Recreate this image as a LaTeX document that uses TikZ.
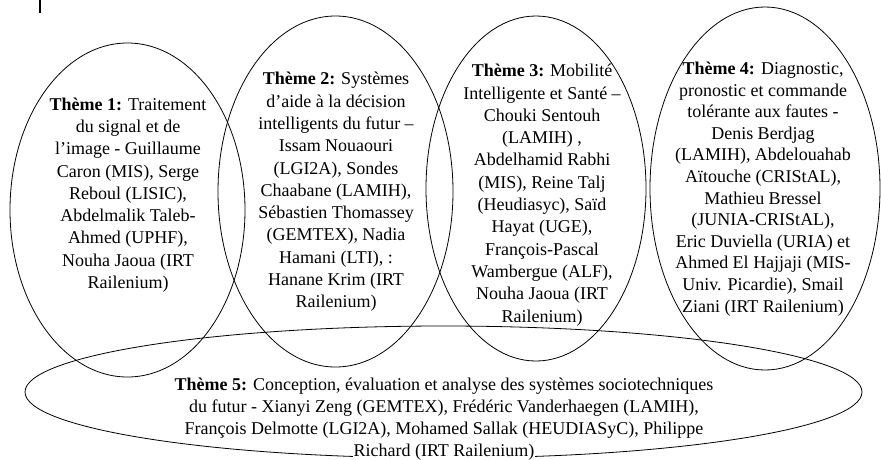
\documentclass[tikz,border=0pt]{standalone}
\usepackage{fontspec}
\setmainfont{Liberation Serif}
\usetikzlibrary{shapes.geometric}
\tikzset{
  theme/.style={draw=black, line width=0.8pt, ellipse, inner sep=0pt, fill=none},
  txt/.style={align=center, inner sep=0pt, font=\fontsize{18}{22.3}\selectfont},
}
\begin{document}
\begin{tikzpicture}[x=1pt,y=-1pt]
\useasboundingbox (0,0) rectangle (881,459);
% ellipses
\node[theme, minimum width=235pt, minimum height=334pt] (e1) at (127.5,210) {};
\node[theme, minimum width=235pt, minimum height=351pt] (e2) at (335.5,191.5) {};
\node[theme, minimum width=220pt, minimum height=345pt] (e3) at (536,188.5) {};
\node[theme, minimum width=230pt, minimum height=363pt] (e4) at (765,188.5) {};
\node[theme, minimum width=837pt, minimum height=132pt] (e5) at (443.5,392) {};
% small mark top left
\coordinate (m1) at (40,0);
\coordinate (m2) at (40,13);
\draw[line width=2pt] (m1) -- (m2);
% texts
\node[txt] (t1) at (128,195) {\textbf{Thème 1:} Traitement\\ du signal et de\\ l’image - Guillaume\\ Caron (MIS), Serge\\ Reboul (LISIC),\\ Abdelmalik Taleb-\\ Ahmed (UPHF),\\ Nouha Jaoua (IRT\\ Railenium)};
\node[txt] (t2) at (336,192) {\textbf{Thème 2:} Systèmes\\ d'aide à la décision\\ intelligents du futur –\\ Issam Nouaouri\\ (LGI2A), Sondes\\ Chaabane (LAMIH),\\ Sébastien Thomassey\\ (GEMTEX), Nadia\\ Hamani (LTI), :\\ Hanane Krim (IRT\\ Railenium)};
\node[txt] (t3) at (542,195) {\textbf{Thème 3:} Mobilité\\ Intelligente et Santé –\\ Chouki Sentouh\\ (LAMIH) ,\\ Abdelhamid Rabhi\\ (MIS), Reine Talj\\ (Heudiasyc), Saïd\\ Hayat (UGE),\\ François-Pascal\\ Wambergue (ALF),\\ Nouha Jaoua (IRT\\ Railenium)};
\node[txt, font=\fontsize{18}{21.6}\selectfont] (t4) at (763,189) {\textbf{Thème 4:} Diagnostic,\\ pronostic et commande\\ tolérante aux fautes -\\ Denis Berdjag\\ (LAMIH), Abdelouahab\\ Aïtouche (CRIStAL),\\ Mathieu Bressel\\ (JUNIA-CRIStAL),\\ Eric Duviella (URIA) et\\ Ahmed El Hajjaji (MIS-\\ Univ. Picardie), Smail\\ Ziani (IRT Railenium)};
\node[txt, font=\fontsize{18}{22}\selectfont] (t5) at (444,419) {\textbf{Thème 5:} Conception, évaluation et analyse des systèmes sociotechniques\\ du futur - Xianyi Zeng (GEMTEX), Frédéric Vanderhaegen (LAMIH),\\ François Delmotte (LGI2A), Mohamed Sallak (HEUDIASyC), Philippe\\ {\setlength{\fboxsep}{0.5pt}\colorbox{white}{Richard (IRT Railenium)}}};
\end{tikzpicture}
\end{document}
